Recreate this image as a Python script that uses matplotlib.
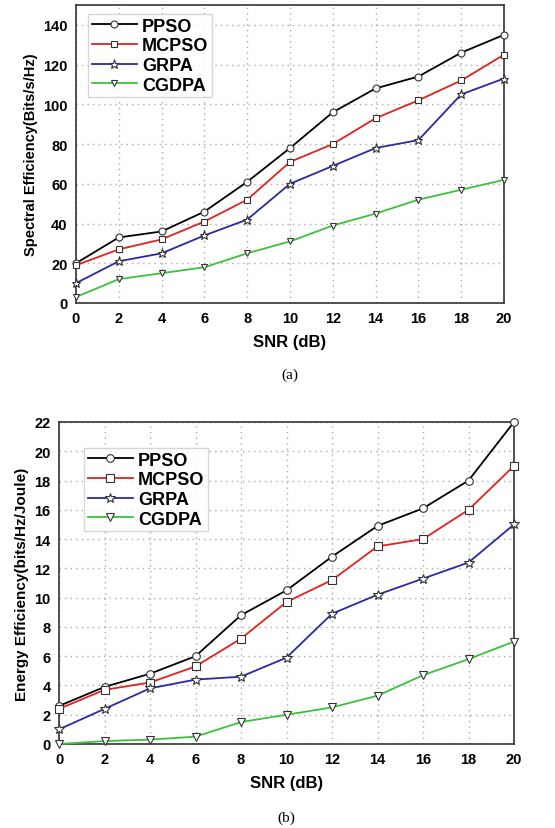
import matplotlib
matplotlib.use("Agg")
import matplotlib.pyplot as plt

snr = [0, 2, 4, 6, 8, 10, 12, 14, 16, 18, 20]
labels = ["PPSO", "MCPSO", "GRPA", "CGDPA"]
colors = ["#000000", "#e0231c", "#2a2aa0", "#3cc13c"]
markers = ["o", "s", "*", "v"]

se_ppso = [20, 33, 36, 46, 61, 78, 96, 108, 114, 126, 135]
se_mcpso = [19, 27, 32, 41, 52, 71, 80, 93, 102, 112, 125]
se_grpa = [10, 21, 25, 34, 42, 60, 69, 78, 82, 105, 113]
se_cgdpa = [3, 12, 15, 18, 25, 31, 39, 45, 52, 57, 62]

ee_ppso = [2.6, 3.9, 4.8, 6.0, 8.8, 10.5, 12.8, 14.9, 16.1, 18.0, 22.0]
ee_mcpso = [2.4, 3.7, 4.2, 5.3, 7.2, 9.7, 11.2, 13.5, 14.0, 16.0, 19.0]
ee_grpa = [1.0, 2.4, 3.8, 4.4, 4.6, 5.9, 8.9, 10.2, 11.3, 12.4, 15.0]
ee_cgdpa = [0.0, 0.2, 0.3, 0.5, 1.5, 2.0, 2.5, 3.3, 4.7, 5.8, 7.0]

plt.rcParams['font.family'] = ['Liberation Sans', 'DejaVu Sans']

fig = plt.figure(figsize=(5.55, 8.29), dpi=100)
ax1 = fig.add_axes([76/555, 1-304/829, (504-76)/555, (304-6)/829])
ax2 = fig.add_axes([59/555, 1-745/829, (514-59)/555, (745-423)/829])


def draw(ax, series, ylim, yticks, ylabel, legend_anchor, msize, ylab_size):
    for vals, lab, c, m in zip(series, labels, colors, markers):
        ms = msize * 1.35 if m == "*" else msize
        ax.plot(snr, vals, color=c, lw=1.3, marker=m, ms=ms, mfc="white",
                mec="#333333", mew=0.8, label=lab, clip_on=False, zorder=3)
    ax.set_xlim(0, 20)
    ax.set_ylim(*ylim)
    ax.set_xticks(snr)
    ax.set_yticks(yticks)
    ax.grid(True, color="#aaaaaa", linestyle=(0, (1, 3)), lw=1.0)
    ax.tick_params(direction="in", length=0, labelsize=10.5, pad=6)
    for t in ax.get_xticklabels() + ax.get_yticklabels():
        t.set_fontweight("bold")
    for s in ax.spines.values():
        s.set_linewidth(1.2)
        s.set_color("#333333")
    ax.set_xlabel("SNR (dB)", fontsize=12, fontweight="bold", labelpad=6)
    ax.set_ylabel(ylabel, fontsize=ylab_size, fontweight="bold", labelpad=4)
    leg = ax.legend(loc="upper left", bbox_to_anchor=legend_anchor,
                    prop={"weight": "bold", "size": 13}, frameon=True,
                    fancybox=False, edgecolor="#cccccc", borderpad=0.2,
                    labelspacing=0.15, handlelength=2.5, handletextpad=0.3,
                    borderaxespad=0)
    leg.get_frame().set_linewidth(1.0)


draw(ax1, [se_ppso, se_mcpso, se_grpa, se_cgdpa], (0, 150),
     [0, 20, 40, 60, 80, 100, 120, 140], "Spectral Efficiency(Bits/s/Hz)",
     ((88-76)/428, (304-15)/298), 5.0, 10.5)
draw(ax2, [ee_ppso, ee_mcpso, ee_grpa, ee_cgdpa], (0, 22),
     list(range(0, 23, 2)), "Energy Efficiency(bits/Hz/Joule)",
     ((84-59)/455, (745-449)/322), 5.5, 11)

fig.text(290/555, 1-375/829, "(a)", ha="center", va="center",
         fontsize=11, family="Liberation Serif")
fig.text(286/555, 1-818/829, "(b)", ha="center", va="center",
         fontsize=11, family="Liberation Serif")

fig.savefig("out.png", dpi=100)
